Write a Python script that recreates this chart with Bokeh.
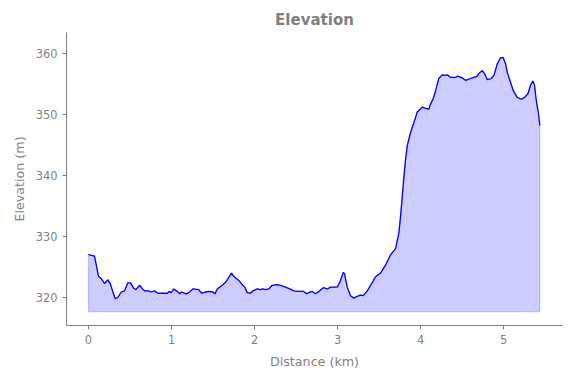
from bokeh.plotting import figure
from bokeh.models import Range1d, FixedTicker
from bokeh.embed import file_html
from bokeh.resources import INLINE

distance_km = [0.000, 0.036, 0.072, 0.096, 0.120, 0.153, 0.193, 0.233, 0.265, 0.289,
               0.322, 0.353, 0.394, 0.434, 0.473, 0.506, 0.546, 0.570, 0.618, 0.651,
               0.675, 0.723, 0.755, 0.795, 0.835, 0.948, 0.972, 0.996, 1.028, 1.069,
               1.100, 1.120, 1.177, 1.208, 1.257, 1.329, 1.361, 1.410, 1.449, 1.498,
               1.522, 1.551, 1.611, 1.651, 1.690, 1.723, 1.755, 1.811, 1.852, 1.883,
               1.912, 1.952, 1.980, 2.033, 2.072, 2.100, 2.133, 2.172, 2.213, 2.273,
               2.313, 2.373, 2.425, 2.473, 2.534, 2.594, 2.627, 2.666, 2.695, 2.735,
               2.775, 2.828, 2.876, 2.916, 2.996, 3.028, 3.069, 3.084, 3.117, 3.157,
               3.196, 3.237, 3.277, 3.310, 3.358, 3.398, 3.458, 3.518, 3.578, 3.639,
               3.699, 3.739, 3.759, 3.779, 3.799, 3.819, 3.840, 3.871, 3.900, 3.928, 3.960,
               4.020, 4.060, 4.100, 4.120, 4.153, 4.181, 4.220, 4.261, 4.301, 4.322,
               4.361, 4.422, 4.449, 4.502, 4.542, 4.602, 4.642, 4.675, 4.702, 4.743,
               4.771, 4.804, 4.852, 4.884, 4.924, 4.964, 4.996, 5.024, 5.045, 5.076,
               5.117, 5.165, 5.213, 5.253, 5.293, 5.325, 5.353, 5.373, 5.394, 5.418,
               5.437]
elevation_m = [327.05, 326.9, 326.8, 325.2, 323.5, 323.1, 322.3, 322.9, 322.2, 321.1,
               319.8, 320.0, 320.9, 321.1, 322.4, 322.4, 321.5, 321.3, 322.0, 321.4,
               321.1, 321.1, 320.9, 321.1, 320.7, 320.7, 321.0, 320.8, 321.4, 321.0,
               320.6, 320.9, 320.6, 320.8, 321.4, 321.3, 320.7, 320.9, 321.0, 320.9,
               320.6, 321.4, 322.0, 322.5, 323.3, 324.0, 323.4, 322.8, 322.1, 321.7,
               320.8, 320.7, 321.1, 321.4, 321.3, 321.4, 321.3, 321.4, 322.0, 322.1,
               322.0, 321.7, 321.4, 321.1, 321.0, 321.0, 320.6, 320.9, 321.0, 320.6,
               321.0, 321.6, 321.4, 321.7, 321.7, 322.5, 324.1, 323.9, 321.7, 320.3,
               319.9, 320.2, 320.4, 320.3, 321.1, 322.0, 323.4, 324.0, 325.3, 327.0,
               328.0, 330.6, 333.3, 336.5, 339.7, 342.6, 344.9, 346.6, 347.9, 349.0, 350.4,
               351.2, 351.0, 350.9, 351.7, 352.6, 353.9, 355.9, 356.5, 356.4, 356.5,
               356.1, 356.1, 356.3, 356.0, 355.6, 355.9, 356.1, 356.2, 356.7, 357.2,
               356.7, 355.7, 355.9, 356.4, 358.3, 359.3, 359.3, 358.3, 356.9, 355.6,
               353.9, 352.8, 352.5, 352.8, 353.4, 354.8, 355.5, 354.8, 352.3, 350.4,
               348.2]
fill_base_m = 317.7
y_ticks = [320, 330, 340, 350, 360]
x_ticks = [0, 1, 2, 3, 4, 5]

TXT = "#7f7f7f"
FONT = "DejaVu Sans"

p = figure(width=571, height=378, output_backend="svg", toolbar_location=None,
           x_range=Range1d(-0.265, 5.71), y_range=Range1d(315.41, 363.44),
           min_border_left=66, min_border_right=9, min_border_top=32, min_border_bottom=53)

p.title.text = "Elevation"
p.title.align = "center"
p.title.text_font = FONT
p.title.text_font_size = "15px"
p.title.text_font_style = "bold"
p.title.text_color = TXT
p.title.offset = 4
p.title.standoff = 8

p.outline_line_color = None
p.xgrid.visible = False
p.ygrid.visible = False
p.background_fill_color = "white"
p.border_fill_color = "white"

xs = distance_km + [distance_km[-1], distance_km[0]]
ys = elevation_m + [fill_base_m, fill_base_m]
p.patch(xs, ys, fill_color="blue", fill_alpha=0.2, line_color="blue", line_alpha=0.2, line_width=1.2)
p.line(distance_km, elevation_m, line_color="blue", line_width=1.3)

for ax in (p.xaxis[0], p.yaxis[0]):
    ax.axis_line_color = "#808080"
    ax.axis_line_width = 1
    ax.major_tick_line_color = "#808080"
    ax.major_tick_in = 0
    ax.major_tick_out = 4
    ax.minor_tick_line_color = None
    ax.major_label_text_font = FONT
    ax.major_label_text_font_size = "11.4px"
    ax.major_label_text_color = TXT
    ax.axis_label_text_font = FONT
    ax.axis_label_text_font_size = "12.7px"
    ax.axis_label_text_font_style = "normal"
    ax.axis_label_text_color = TXT
    ax.major_label_standoff = 5

p.xaxis.ticker = FixedTicker(ticks=x_ticks)
p.yaxis.ticker = FixedTicker(ticks=y_ticks)
p.xaxis.axis_label = "Distance (km)"
p.yaxis.axis_label = "Elevation (m)"
p.xaxis.axis_label_standoff = 7
p.yaxis.axis_label_standoff = 6

open("out.html", "w").write(file_html(p, INLINE))
